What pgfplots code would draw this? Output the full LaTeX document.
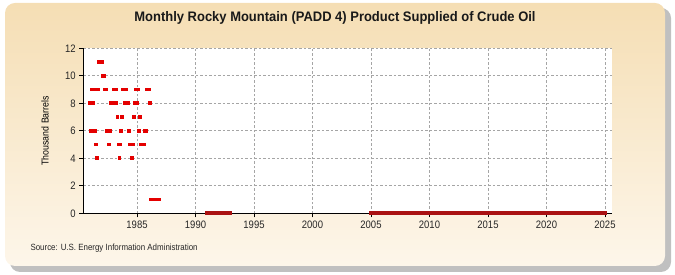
\documentclass[border=0pt]{standalone}
\usepackage{pgfplots}
\pgfplotsset{compat=1.18}
\usepackage{fontspec}
\setmainfont{Liberation Sans}[FakeStretch=0.88]
\newfontfamily\titlefont{Liberation Sans}[FakeStretch=0.94]
\definecolor{bgtop}{RGB}{245,222,180}
\definecolor{bgbot}{RGB}{253,246,234}
\definecolor{shadowc}{RGB}{150,150,150}
\definecolor{dotred}{RGB}{228,0,0}
\definecolor{zerored}{RGB}{170,18,18}
\definecolor{gridc}{RGB}{165,165,165}
\begin{document}
\begin{tikzpicture}
\useasboundingbox (0pt,0pt) rectangle (675pt,275pt);
% shadow and background panel
\fill[shadowc!60, rounded corners=10pt] (10pt,3pt) rectangle (671pt,267pt);
\shade[top color=bgtop, bottom color=bgbot, rounded corners=10pt] (5pt,9pt) rectangle (665pt,272pt);
\node[font=\titlefont\bfseries\fontsize{13.8}{15}\selectfont, text=black!90] at (335pt,257pt) {Monthly Rocky Mountain (PADD 4) Product Supplied of Crude Oil};
\node[anchor=west, font=\fontsize{9}{11}\selectfont, text=black!85] at (27pt,27pt) {Source: U.S. Energy Information Administration};
\begin{axis}[
  at={(83.3pt,61.7pt)}, anchor=south west,
  scale only axis, width=528.4pt, height=165pt,
  xmin=4.9, xmax=546.9, ymin=0, ymax=12,
  axis x line=bottom, axis y line=left,
  axis line style={-, black, line width=0.9pt},
  axis background/.style={fill=white},
  xtick={60,120,180,240,300,360,420,480,540},
  xticklabels={1985,1990,1995,2000,2005,2010,2015,2020,2025},
  ytick={0,2,4,6,8,10,12},
  tick align=outside, major tick length=4pt,
  tick style={black, line width=0.7pt},
  grid=major,
  major grid style={gridc, line width=0.6pt, dash pattern=on 2.5pt off 2pt},
  /pgf/number format/assume math mode=true,
  tick label style={font=\fontsize{10.8}{12}\selectfont, text=black!85},
  ylabel={Thousand Barrels},
  ylabel style={font=\fontsize{10.5}{12}\selectfont, text=black!85},
  every axis y label/.style={at={(axis description cs:-0.0725,0.5)}, rotate=90, anchor=center},
  clip=false,
]
\addplot[only marks, mark=square*, mark size=1.45pt, color=dotred, mark options={line width=0pt}] coordinates {
(12,8) (13,6) (14,9) (15,8) (16,9) (17,6) (18,5) (19,4) (20,9) (21,11)
(22,11) (23,11) (24,11) (25,10) (26,10) (27,9) (28,9) (29,6) (30,6) (31,5)
(32,6) (33,8) (34,8) (35,8) (36,9) (37,8) (38,9) (39,8) (40,7) (41,5)
(42,4) (43,5) (44,6) (45,7) (46,9) (47,9) (48,8) (49,9) (50,8) (51,8)
(52,6) (53,5) (54,5) (55,4) (56,5) (57,7) (58,8) (59,9) (60,8) (61,9)
(62,6) (63,7) (64,5) (65,5) (66,5) (67,5) (68,6) (69,6) (70,9) (71,9)
(72,9) (73,8) (74,1) (75,1) (76,1) (77,1) (78,1) (79,1) (80,1) (81,1)
(82,1) (83,1)
};
\addplot[only marks, mark=square*, mark size=1.45pt, color=zerored, mark options={line width=0pt}] coordinates {
(132,0) (133,0) (134,0) (135,0) (136,0) (137,0) (138,0) (139,0) (140,0) (141,0)
(142,0) (143,0) (144,0) (145,0) (146,0) (147,0) (148,0) (149,0) (150,0) (151,0)
(152,0) (153,0) (154,0) (155,0)
(300,0) (301,0) (302,0) (303,0) (304,0) (305,0) (306,0) (307,0) (308,0) (309,0)
(310,0) (311,0) (312,0) (313,0) (314,0) (315,0) (316,0) (317,0) (318,0) (319,0)
(320,0) (321,0) (322,0) (323,0) (324,0) (325,0) (326,0) (327,0) (328,0) (329,0)
(330,0) (331,0) (332,0) (333,0) (334,0) (335,0) (336,0) (337,0) (338,0) (339,0)
(340,0) (341,0) (342,0) (343,0) (344,0) (345,0) (346,0) (347,0) (348,0) (349,0)
(350,0) (351,0) (352,0) (353,0) (354,0) (355,0) (356,0) (357,0) (358,0) (359,0)
(360,0) (361,0) (362,0) (363,0) (364,0) (365,0) (366,0) (367,0) (368,0) (369,0)
(370,0) (371,0) (372,0) (373,0) (374,0) (375,0) (376,0) (377,0) (378,0) (379,0)
(380,0) (381,0) (382,0) (383,0) (384,0) (385,0) (386,0) (387,0) (388,0) (389,0)
(390,0) (391,0) (392,0) (393,0) (394,0) (395,0) (396,0) (397,0) (398,0) (399,0)
(400,0) (401,0) (402,0) (403,0) (404,0) (405,0) (406,0) (407,0) (408,0) (409,0)
(410,0) (411,0) (412,0) (413,0) (414,0) (415,0) (416,0) (417,0) (418,0) (419,0)
(420,0) (421,0) (422,0) (423,0) (424,0) (425,0) (426,0) (427,0) (428,0) (429,0)
(430,0) (431,0) (432,0) (433,0) (434,0) (435,0) (436,0) (437,0) (438,0) (439,0)
(440,0) (441,0) (442,0) (443,0) (444,0) (445,0) (446,0) (447,0) (448,0) (449,0)
(450,0) (451,0) (452,0) (453,0) (454,0) (455,0) (456,0) (457,0) (458,0) (459,0)
(460,0) (461,0) (462,0) (463,0) (464,0) (465,0) (466,0) (467,0) (468,0) (469,0)
(470,0) (471,0) (472,0) (473,0) (474,0) (475,0) (476,0) (477,0) (478,0) (479,0)
(480,0) (481,0) (482,0) (483,0) (484,0) (485,0) (486,0) (487,0) (488,0) (489,0)
(490,0) (491,0) (492,0) (493,0) (494,0) (495,0) (496,0) (497,0) (498,0) (499,0)
(500,0) (501,0) (502,0) (503,0) (504,0) (505,0) (506,0) (507,0) (508,0) (509,0)
(510,0) (511,0) (512,0) (513,0) (514,0) (515,0) (516,0) (517,0) (518,0) (519,0)
(520,0) (521,0) (522,0) (523,0) (524,0) (525,0) (526,0) (527,0) (528,0) (529,0)
(530,0) (531,0) (532,0) (533,0) (534,0) (535,0) (536,0) (537,0) (538,0) (539,0)
(540,0)
};
\end{axis}
\end{tikzpicture}
\end{document}
